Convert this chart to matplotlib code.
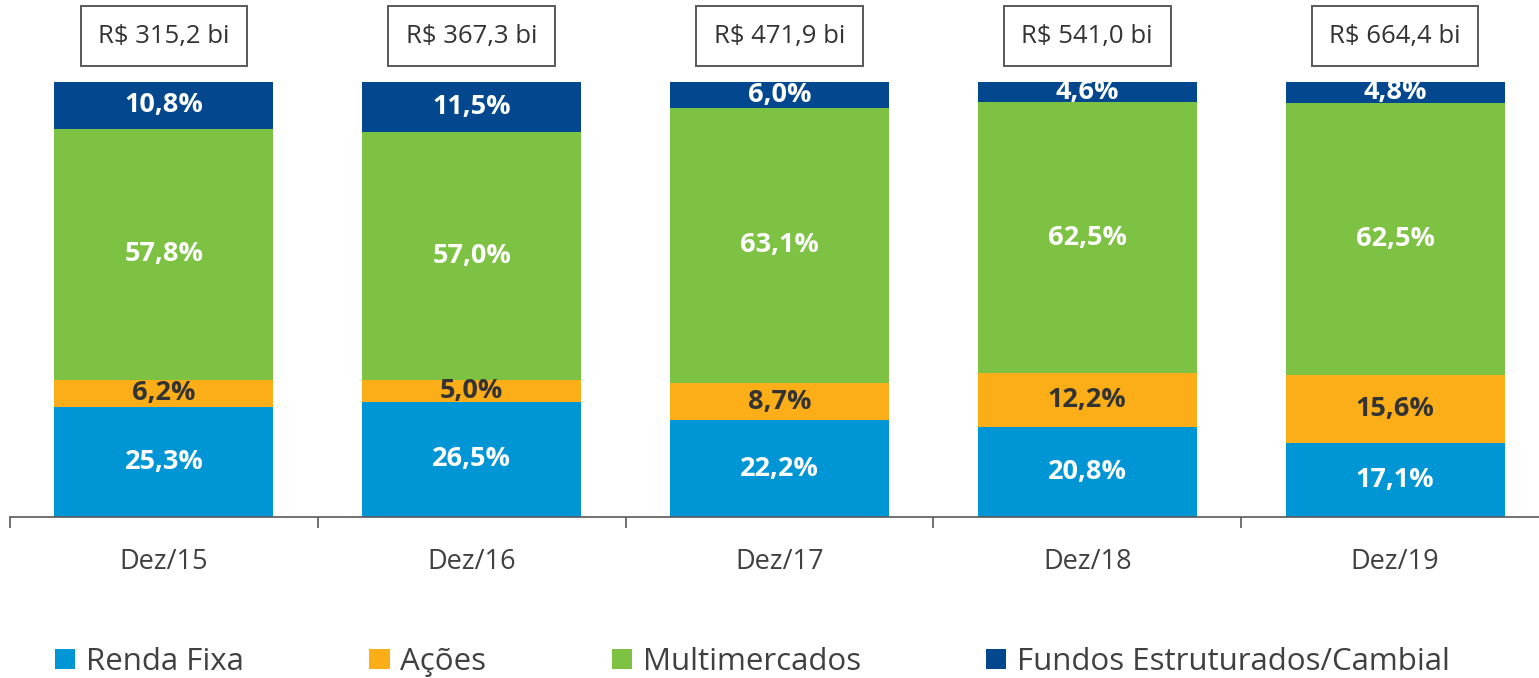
import matplotlib.pyplot as plt
import numpy as np

plt.rcParams['font.family'] = ['Open Sans', 'DejaVu Sans']

# dados (%)
categorias = ["Dez/15", "Dez/16", "Dez/17", "Dez/18", "Dez/19"]
totais = ["R$ 315,2 bi", "R$ 367,3 bi", "R$ 471,9 bi", "R$ 541,0 bi", "R$ 664,4 bi"]
renda_fixa = [25.3, 26.5, 22.2, 20.8, 17.1]
acoes = [6.2, 5.0, 8.7, 12.2, 15.6]
multimercados = [57.8, 57.0, 63.1, 62.5, 62.5]
fundos_estr = [10.8, 11.5, 6.0, 4.6, 4.8]

series = [
    ("Renda Fixa", renda_fixa, "#0096D6", "white"),
    ("Ações", acoes, "#FBAE17", "#333333"),
    ("Multimercados", multimercados, "#7DC242", "white"),
    ("Fundos Estruturados/Cambial", fundos_estr, "#03488F", "white"),
]

fig = plt.figure(figsize=(15.39, 6.78), dpi=100)
ax = fig.add_axes([10 / 1539, 161 / 678, 1539 * 1.0 / 1539, 435 / 678])

x = np.arange(len(categorias))
bottom = np.zeros(len(categorias))
for nome, vals, cor, cor_txt in series:
    vals = np.array(vals)
    ax.bar(x, vals, width=0.712, bottom=bottom, color=cor, label=nome, zorder=2)
    for xi, b, v in zip(x, bottom, vals):
        ax.text(xi, b + v / 2, f"{v:.1f}%".replace(".", ","), ha="center", va="center",
                color=cor_txt, fontsize=19.5, fontweight="bold", zorder=3)
    bottom += vals

for xi, t in zip(x, totais):
    ax.text(xi, 110.5, t, ha="center", va="center", fontsize=18.5, color="#333333",
            bbox=dict(boxstyle="square,pad=0.68", fc="white", ec="#595959", lw=1.4),
            clip_on=False)

ax.set_xlim(-0.5, 4.5)
ax.set_ylim(0, 100)
for s in ["top", "right", "left"]:
    ax.spines[s].set_visible(False)
ax.spines["bottom"].set_color("#595959")
ax.spines["bottom"].set_linewidth(1.2)
ax.set_yticks([])
ax.set_xticks(x)
ax.set_xticklabels(categorias, fontsize=19.5, color="#404040")
ax.tick_params(axis="x", which="major", length=0, pad=22)
ax.set_xticks(np.arange(-0.5, 5, 1), minor=True)
ax.tick_params(axis="x", which="minor", length=8, width=1.2, color="#595959", direction="out")

fig.legend(loc="lower left", bbox_to_anchor=(27 / 1539, -0.04), ncol=4, frameon=False,
           fontsize=22.5, handlelength=0.65, handleheight=0.65, handletextpad=0.35,
           columnspacing=4.0, labelcolor="#404040")

fig.savefig("out.png", dpi=100)
